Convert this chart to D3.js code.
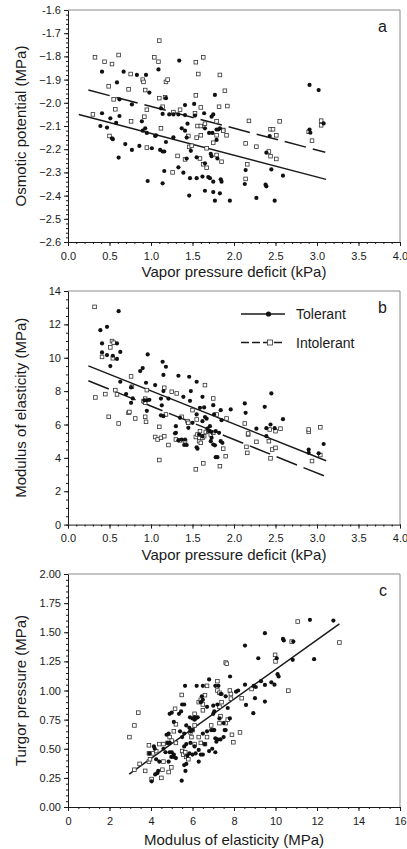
<!DOCTYPE html>
<html>
<head>
<meta charset="utf-8">
<script src="https://cdn.jsdelivr.net/npm/d3@7"></script>
<style>
  html, body { margin: 0; padding: 0; background: #fff; }
  svg { display: block; font-family: "Liberation Sans", Arial, Helvetica, sans-serif; }
</style>
</head>
<body>
<svg id="chart" width="407" height="849"></svg>
<script>
// ---------- Panel a: osmotic potential vs vapor pressure deficit ----------
const aTolerant = [
  [0.41,-1.866],[0.67,-1.866],[0.59,-1.912],[0.62,-1.985],[0.77,-2.007],[0.62,-2.057],[0.41,-2.045],
  [0.39,-2.10],[0.47,-2.107],[0.51,-2.067],[0.58,-2.086],[0.54,-2.157],[0.83,-1.88],[0.94,-1.88],
  [0.98,-1.956],[0.89,-2.08],[0.93,-2.11],[0.90,-2.12],[1.09,-1.856],[1.12,-2.024],[1.14,-2.048],
  [1.05,-2.143],[1.18,-1.98],[1.22,-2.05],[1.27,-2.05],[1.33,-2.05],[1.34,-1.818],[1.41,-2.01],
  [1.41,-2.053],[1.52,-2.005],[1.53,-2.055],[1.44,-2.09],[1.37,-2.11],[1.41,-2.12],[1.43,-2.15],
  [1.65,-2.11],[1.64,-2.045],[1.73,-2.06],[1.75,-2.05],[1.77,-1.966],[1.79,-2.115],[1.81,-2.115],
  [1.83,-2.11],[2.43,-2.143],[2.91,-1.923],[3.02,-1.945],[2.91,-2.115],[3.08,-2.089],
  [0.53,-2.153],[0.61,-2.236],[0.69,-2.178],[0.77,-2.203],[0.86,-2.186],[0.96,-2.337],[0.95,-2.13],
  [1.06,-2.14],[1.01,-2.196],[1.11,-2.203],[1.14,-2.21],[1.16,-2.21],[1.14,-2.347],[1.16,-2.294],
  [1.18,-2.169],[1.27,-2.149],[1.33,-2.278],[1.39,-2.301],[1.46,-2.40],[1.47,-2.325],[1.48,-2.207],
  [1.43,-2.24],[1.55,-2.325],[1.55,-2.235],[1.62,-2.318],[1.65,-2.379],[1.65,-2.261],[1.69,-2.32],
  [1.71,-2.325],[1.75,-2.34],[1.75,-2.385],[1.72,-2.22],[1.73,-2.23],[1.77,-2.422],[1.83,-2.39],
  [1.84,-2.33],[1.85,-2.34],[1.79,-2.16],[1.80,-2.24],[1.95,-2.422],[2.13,-2.35],[2.14,-2.29],
  [2.27,-2.41],[2.38,-2.353],[2.39,-2.36],[2.39,-2.215],[2.45,-2.287],[2.49,-2.422],[2.59,-2.314],
  [2.92,-2.129],[1.70,-2.13],[1.74,-2.13]
];
const aIntolerant = [
  [0.325,-1.804],[0.44,-1.823],[0.53,-1.833],[0.61,-1.794],[0.49,-1.929],[0.55,-1.985],[0.57,-2.028],
  [0.73,-1.942],[0.755,-1.876],[0.90,-1.90],[0.91,-1.91],[0.93,-1.945],[0.95,-2.03],[0.92,-2.06],
  [0.76,-2.08],[1.04,-1.804],[1.09,-1.823],[1.10,-1.732],[1.10,-1.98],[1.17,-1.976],[1.18,-1.91],
  [1.20,-1.90],[1.14,-2.017],[1.12,-2.11],[1.27,-2.04],[1.35,-2.03],[1.54,-1.825],[1.63,-1.804],
  [1.57,-1.876],[1.54,-1.968],[1.60,-2.02],[1.53,-2.045],[1.56,-2.10],[1.60,-2.10],[1.65,-2.09],
  [1.79,-2.08],[1.83,-1.88],[1.89,-1.948],[1.82,-2.017],[1.92,-2.014],[1.87,-2.117],[2.18,-2.078],
  [2.44,-2.114],[2.47,-2.114],[2.55,-2.08],[3.05,-2.077],[3.05,-2.097],[0.30,-2.05],
  [0.50,-2.143],[0.95,-2.193],[1.26,-2.30],[1.32,-2.229],[1.41,-2.244],[1.46,-2.19],[1.49,-2.185],
  [1.45,-2.143],[1.55,-2.15],[1.60,-2.14],[1.59,-2.24],[1.63,-2.265],[1.67,-2.28],[1.67,-2.196],
  [1.75,-2.172],[1.79,-2.225],[1.85,-2.254],[1.79,-2.14],[1.91,-2.14],[1.87,-2.12],[2.14,-2.328],
  [2.16,-2.265],[2.14,-2.175],[2.27,-2.189],[2.42,-2.21],[2.44,-2.23],[2.51,-2.242],[2.51,-2.14],
  [2.94,-2.163],[2.90,-2.125]
];
const aTolerantFit = [[0.13,-2.05],[3.11,-2.33]];
const aIntolerantFit = [[0.245,-1.945],[3.10,-2.213]];
const aYTicks = [-2.6,-2.5,-2.4,-2.3,-2.2,-2.1,-2.0,-1.9,-1.8,-1.7,-1.6];
const aYLabels = ["\u22122.6","\u22122.5","\u22122.4","\u22122.3","\u22122.2","\u22122.1","\u22122.0","\u22121.9","\u22121.8","-1.7","-1.6"];

// ---------- Panel b: modulus of elasticity vs vapor pressure deficit ----------
const bTolerant = [
  [0.39,11.65],[0.47,11.85],[0.61,12.79],[0.41,10.86],[0.41,10.32],[0.47,10.16],[0.51,9.50],[0.54,10.12],
  [0.59,10.86],[0.59,9.93],[0.63,10.35],[0.63,8.56],[0.70,7.82],[0.76,8.22],[0.78,7.56],[0.76,7.3],
  [0.87,9.2],[0.90,9.38],[0.94,8.5],[0.92,7.45],[0.95,7.45],[0.98,7.48],[0.95,6.82],[0.96,10.2],
  [1.05,8.36],[1.12,6.55],[1.15,6.5],[1.13,7.15],[1.14,9.76],[1.18,9.46],[1.15,8.97],[1.12,7.55],
  [1.15,8.0],[1.21,7.55],[1.33,8.92],[1.39,7.66],[1.46,8.86],[1.48,8.0],[1.47,7.42],[1.55,8.56],
  [1.59,7.0],[1.64,7.02],[1.62,7.66],[1.55,6.6],[1.65,6.45],[1.67,6.35],[1.75,7.16],[1.76,6.6],
  [1.84,6.86],[1.96,6.9],[1.85,6.26],[2.13,7.26],[2.14,6.7],[2.27,5.75],[2.37,7.06],[2.39,5.78],
  [2.44,6.0],[2.45,7.86],[2.49,5.78],[2.59,6.32],[1.30,5.9],[1.30,5.5],
  [1.29,5.47],[1.33,5.05],[1.37,5.1],[1.41,5.1],[1.40,4.77],[1.43,4.77],[1.55,4.63],[1.56,4.55],
  [1.70,5.6],[1.73,5.55],[1.73,5.2],[1.72,5.0],[1.75,4.8],[1.77,4.75],[1.78,4.04],[1.80,4.04],
  [1.84,5.0],[1.86,4.9],[2.39,5.3],[2.90,4.5],[2.90,4.3],[3.02,4.27],[3.08,4.83],
  [1.45,5.8],[1.50,6.1],[1.58,5.4],[1.62,5.3],[1.68,5.75],[1.71,5.9],[1.78,5.6],[1.82,5.5],[1.62,6.2],[1.35,6.4]
];
const bIntolerant = [
  [0.32,13.05],[0.33,7.62],[0.41,10.05],[0.45,7.82],[0.49,6.46],[0.51,10.62],[0.53,11.0],[0.55,10.9],
  [0.54,9.97],[0.57,8.06],[0.59,7.8],[0.61,6.06],[0.73,6.7],[0.77,8.26],[0.76,8.88],[0.74,6.75],
  [0.81,6.36],[0.91,7.4],[0.93,7.55],[0.93,7.3],[0.94,6.16],[0.95,8.06],[0.93,6.46],[1.10,5.86],
  [1.16,8.2],[1.18,6.6],[1.25,7.96],[1.31,7.86],[1.37,6.46],[1.44,6.2],[1.45,6.1],[1.50,6.86],
  [1.55,6.3],[1.65,8.36],[1.75,7.56],[1.79,6.6],[1.91,6.36],[2.13,6.06],[2.17,5.4],[2.43,5.7],
  [2.56,5.75],[2.90,5.56],[3.04,5.83],
  [1.05,5.25],[1.08,5.1],[1.12,5.2],[1.16,5.3],[1.21,4.77],[1.10,3.87],[1.30,5.1],[1.35,5.05],
  [1.41,5.0],[1.54,5.25],[1.56,5.4],[1.58,5.0],[1.59,5.6],[1.62,5.2],[1.60,4.9],[1.64,5.3],
  [1.66,5.55],[1.54,3.31],[1.63,3.67],[1.69,5.6],[1.72,5.4],[1.75,5.5],[1.87,4.55],[1.90,4.1],
  [1.83,3.5],[2.15,4.66],[2.16,4.3],[2.17,5.46],[2.27,4.96],[2.42,5.0],[2.44,3.97],[2.46,4.5],
  [2.50,4.6],[2.50,5.6],[2.90,5.7],[2.94,3.81],[3.04,4.17]
];
const bTolerantFit = [[0.245,9.51],[3.11,3.83]];
const bIntolerantFit = [[0.245,8.62],[3.11,2.87]];
const bYTicks = [0,2,4,6,8,10,12,14];
const bYLabels = ["0","2","4","6","8","10","12","14"];

// ---------- Panel c: turgor pressure vs modulus of elasticity ----------
const cTolerant = [
  [11.66,1.607],[12.79,1.60],[11.86,1.269],[10.86,1.42],[10.83,1.263],[10.36,1.443],[10.40,1.43],
  [9.17,1.277],[9.49,1.492],[10.06,1.277],[10.1,1.14],[10.15,1.12],[9.8,1.07],[9.95,1.05],
  [9.49,1.048],[9.49,0.905],[9.3,1.08],[8.95,1.04],[9.05,1.03],[9.01,0.934],[8.58,0.876],
  [8.53,1.386],[8.53,1.05],[8.93,0.805],[5.64,1.04],[6.2,1.04],[6.5,1.04],[6.8,1.095],[7.1,1.04],
  [7.25,1.04],[7.81,1.12],[7.6,0.95],[8.1,0.99],[8.2,1.0],[7.4,0.97],[5.35,0.8],[5.45,0.82],
  [5.5,0.88],[5.6,0.88],[5.88,0.77],[6.1,0.77],[6.15,0.76],[6.4,0.9],[6.5,0.92],[6.45,0.95],
  [6.7,0.86],[7.0,0.87],[7.2,0.88],[7.05,0.82],[7.0,0.8],[7.35,0.97],[7.7,0.85],[7.8,0.76],
  [4.03,0.22],[4.2,0.28],[4.3,0.29],[4.35,0.31],[4.4,0.39],[4.25,0.41],[3.92,0.46],[4.14,0.52],
  [4.18,0.50],[4.75,0.62],[4.85,0.63],[4.8,0.55],[4.9,0.55],[4.9,0.8],[5.0,0.81],[5.1,0.73],
  [4.6,0.5],[4.7,0.47],[4.9,0.47],[5.0,0.47],[5.1,0.45],[4.98,0.43],[5.1,0.43],[5.2,0.42],
  [4.85,0.39],[5.48,0.226],[5.6,0.36],[5.7,0.37],[5.75,0.44],[5.85,0.46],[5.66,0.31],[5.6,0.52],
  [5.7,0.54],[5.5,0.6],[5.6,0.63],[5.4,0.65],[5.9,0.65],[6.0,0.66],[5.7,0.7],[5.85,0.68],
  [6.0,0.76],[6.1,0.75],[6.25,0.77],[5.9,0.55],[6.1,0.52],[6.15,0.46],[6.0,0.45],[6.3,0.49],
  [6.4,0.45],[6.5,0.45],[6.3,0.39],[6.5,0.63],[6.7,0.65],[6.9,0.66],[6.6,0.54],[6.8,0.48],
  [6.95,0.5],[7.1,0.59],[7.15,0.56],[7.0,0.66],[7.05,0.66],[7.1,0.47],[7.2,0.58],[7.35,0.58],
  [7.5,0.6],[7.55,0.66],[7.3,0.76],[7.5,0.72],[7.6,0.66]
];
const cIntolerant = [
  [11.07,1.592],[10.78,1.42],[13.08,1.412],[9.98,1.306],[10.0,1.25],[10.62,0.999],[8.85,1.013],
  [8.37,0.934],[7.6,1.24],[7.65,1.23],[7.8,1.0],[7.85,0.97],[7.2,1.08],[7.2,1.0],[7.3,0.98],
  [6.7,1.04],[6.6,0.96],[6.5,0.88],[6.3,0.9],[6.4,0.92],[5.48,0.962],[5.16,0.843],[6.1,0.8],
  [3.39,0.81],[6.5,0.83],[7.3,0.86],[7.4,0.9],[7.85,0.93],
  [2.96,0.60],[3.2,0.7],[3.2,0.32],[3.45,0.37],[3.72,0.31],[3.9,0.53],[3.9,0.39],[3.95,0.41],
  [3.9,0.46],[4.1,0.46],[4.03,0.24],[4.25,0.48],[4.5,0.25],[4.55,0.32],[4.6,0.39],[4.85,0.3],
  [4.98,0.34],[4.4,0.54],[4.6,0.54],[4.8,0.55],[4.9,0.6],[5.0,0.57],[5.2,0.55],[5.1,0.65],
  [5.2,0.71],[5.5,0.48],[5.55,0.45],[5.65,0.47],[5.7,0.43],[5.8,0.41],[5.9,0.64],[6.0,0.66],
  [5.95,0.6],[6.1,0.7],[6.1,0.54],[6.3,0.6],[6.4,0.55],[6.6,0.54],[6.7,0.6],[6.9,0.7],
  [7.3,0.72],[7.35,0.78],[7.6,0.72],[7.7,0.75],[8.29,0.64],[7.97,0.556],[7.9,0.62]
];
const cFit = [[2.95,0.283],[13.08,1.572]];
const cYTicks = [0,0.25,0.5,0.75,1.0,1.25,1.5,1.75,2.0];
const cYLabels = ["0.00","0.25","0.50","0.75","1.00","1.25","1.50","1.75","2.00"];
const cXTicks = [0,2,4,6,8,10,12,14,16];
const cXLabels = ["0","2","4","6","8","10","12","14","16"];

const vpdTicks = [0,0.5,1.0,1.5,2.0,2.5,3.0,3.5,4.0];
const vpdLabels = ["0.0","0.5","1.0","1.5","2.0","2.5","3.0","3.5","4.0"];

const legendNames = ["Tolerant","Intolerant"];

// ---------- drawing ----------
const svg = d3.select("#chart");
const INK = "#1a1a1a";
const DASH = "22,7";

function range(a, b, step) {
  const out = [];
  const n = Math.round((b - a) / step);
  for (let i = 0; i <= n; i++) out.push(+(a + i * step).toFixed(6));
  return out;
}

function panel(cfg) {
  const g = svg.append("g");
  const x = d3.scaleLinear().domain(cfg.xDomain).range([cfg.left, cfg.right]);
  const y = d3.scaleLinear().domain(cfg.yDomain).range([cfg.bottom, cfg.top]);

  // light frame on top and right
  g.append("path")
    .attr("d", `M${cfg.left},${cfg.top}H${cfg.right}V${cfg.bottom}`)
    .attr("fill", "none").attr("stroke", "#8a8a8a").attr("stroke-width", 1);

  // minor ticks
  const minorX = d3.axisBottom(x).tickValues(range(cfg.xDomain[0], cfg.xDomain[1], cfg.xMinor))
    .tickSize(2).tickFormat("");
  const minorY = d3.axisLeft(y).tickValues(range(cfg.yDomain[0], cfg.yDomain[1], cfg.yMinor))
    .tickSize(2).tickFormat("");
  g.append("g").attr("transform", `translate(0,${cfg.bottom})`).call(minorX)
    .call(s => s.select(".domain").remove());
  g.append("g").attr("transform", `translate(${cfg.left},0)`).call(minorY)
    .call(s => s.select(".domain").remove());

  // major axes
  const ax = d3.axisBottom(x).tickValues(cfg.xTicks).tickSize(4).tickSizeOuter(0).tickPadding(6)
    .tickFormat((d, i) => cfg.xLabels[i]);
  const ay = d3.axisLeft(y).tickValues(cfg.yTicks).tickSize(4).tickSizeOuter(0).tickPadding(3)
    .tickFormat((d, i) => cfg.yLabels[i]);
  const gx = g.append("g").attr("transform", `translate(0,${cfg.bottom})`).call(ax);
  const gy = g.append("g").attr("transform", `translate(${cfg.left},0)`).call(ay);
  [gx, gy].forEach(s => {
    s.selectAll("text").attr("font-size", 11).attr("fill", INK)
      .attr("font-family", '"Liberation Sans", Arial, sans-serif');
    s.selectAll("line,path").attr("stroke", INK);
  });
  g.selectAll(".tick line").attr("stroke", INK);

  // axis titles
  g.append("text")
    .attr("x", (cfg.left + cfg.right) / 2).attr("y", cfg.bottom + cfg.xTitleGap)
    .attr("text-anchor", "middle").attr("font-size", 15).attr("fill", INK)
    .text(cfg.xTitle);
  g.append("text")
    .attr("transform", `translate(${cfg.yTitleX},${(cfg.top + cfg.bottom) / 2}) rotate(-90)`)
    .attr("text-anchor", "middle").attr("font-size", 15).attr("fill", INK)
    .text(cfg.yTitle);

  // panel letter
  g.append("text").attr("x", cfg.right - 13).attr("y", cfg.top + 22)
    .attr("text-anchor", "end").attr("font-size", 16).attr("fill", INK).text(cfg.letter);

  // fitted lines
  const line = d3.line().x(d => x(d[0])).y(d => y(d[1]));
  cfg.fits.forEach(f => {
    g.append("path").attr("d", line(f.data)).attr("fill", "none")
      .attr("stroke", INK).attr("stroke-width", 1.5)
      .attr("stroke-dasharray", f.dashed ? DASH : null);
  });

  // intolerant: open squares
  const s = 3.6;
  g.append("g").selectAll("rect").data(cfg.intolerant).join("rect")
    .attr("x", d => x(d[0]) - s / 2).attr("y", d => y(d[1]) - s / 2)
    .attr("width", s).attr("height", s)
    .attr("fill", "#fff").attr("stroke", "#333").attr("stroke-width", 0.8);

  // tolerant: filled circles
  g.append("g").selectAll("circle").data(cfg.tolerant).join("circle")
    .attr("cx", d => x(d[0])).attr("cy", d => y(d[1])).attr("r", 2.1)
    .attr("fill", "#111");

  return { g, x, y };
}

panel({
  left: 68, right: 400, top: 10, bottom: 242,
  xDomain: [0, 4], yDomain: [-2.6, -1.6], xMinor: 0.1, yMinor: 0.02,
  xTicks: vpdTicks, xLabels: vpdLabels, yTicks: aYTicks, yLabels: aYLabels,
  xTitle: "Vapor pressure deficit (kPa)", yTitle: "Osmotic potential (MPa)",
  xTitleGap: 35, yTitleX: 26, letter: "a",
  tolerant: aTolerant, intolerant: aIntolerant,
  fits: [{ data: aTolerantFit, dashed: false }, { data: aIntolerantFit, dashed: true }]
});

const pb = panel({
  left: 68, right: 400, top: 291, bottom: 524.6,
  xDomain: [0, 4], yDomain: [0, 14], xMinor: 0.1, yMinor: 0.5,
  xTicks: vpdTicks, xLabels: vpdLabels, yTicks: bYTicks, yLabels: bYLabels,
  xTitle: "Vapor pressure deficit (kPa)", yTitle: "Modulus of elasticity (MPa)",
  xTitleGap: 35, yTitleX: 26, letter: "b",
  tolerant: bTolerant, intolerant: bIntolerant,
  fits: [{ data: bTolerantFit, dashed: false }, { data: bIntolerantFit, dashed: true }]
});

panel({
  left: 68, right: 400, top: 574, bottom: 807,
  xDomain: [0, 16], yDomain: [0, 2], xMinor: 0.5, yMinor: 0.05,
  xTicks: cXTicks, xLabels: cXLabels, yTicks: cYTicks, yLabels: cYLabels,
  xTitle: "Modulus of elasticity (MPa)", yTitle: "Turgor pressure (MPa)",
  xTitleGap: 38, yTitleX: 26, letter: "c",
  tolerant: cTolerant, intolerant: cIntolerant,
  fits: [{ data: cFit, dashed: false }]
});

// legend inside panel b
const lg = pb.g.append("g");
const legendRows = [
  { name: legendNames[0], y: 314, dashed: false },
  { name: legendNames[1], y: 342.5, dashed: true }
];
legendRows.forEach(r => {
  lg.append("line").attr("x1", 241).attr("x2", 285).attr("y1", r.y).attr("y2", r.y)
    .attr("stroke", INK).attr("stroke-width", 1.3)
    .attr("stroke-dasharray", r.dashed ? "8,3" : null);
  if (r.dashed) {
    lg.append("rect").attr("x", 267.5).attr("y", r.y - 2.5).attr("width", 5).attr("height", 5)
      .attr("fill", "#fff").attr("stroke", "#333").attr("stroke-width", 0.8);
  } else {
    lg.append("circle").attr("cx", 268.5).attr("cy", r.y).attr("r", 2.6).attr("fill", "#111");
  }
  lg.append("text").attr("x", 296).attr("y", r.y + 5).attr("font-size", 14).attr("fill", INK)
    .text(r.name);
});
</script>
</body>
</html>
